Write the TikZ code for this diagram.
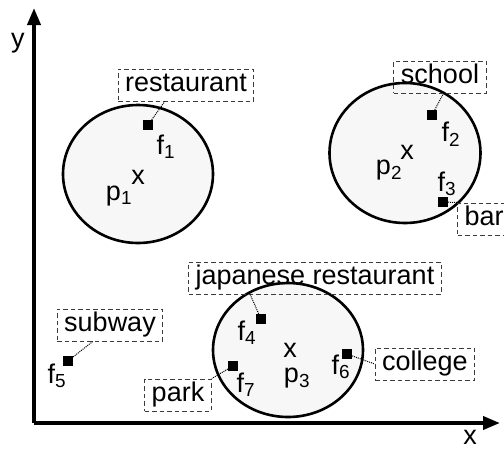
\documentclass[tikz,border=0pt]{standalone}
\usepackage{fontspec}
\setmainfont{Liberation Sans}
\usetikzlibrary{arrows.meta,positioning}
\definecolor{cRegion}{RGB}{247,247,247}
\definecolor{cTag}{RGB}{60,60,60}
\tikzset{
  region/.style={draw=black,line width=2.6pt,fill=cRegion},
  featmark/.style={rectangle,fill=black,minimum size=10pt,inner sep=0pt},
  tagbox/.style={rectangle,draw=cTag,dash pattern=on 4.5pt off 3pt,line width=1pt,
                 inner xsep=7pt,inner ysep=3.5pt,text height=19pt,text depth=6pt,
                 font=\fontsize{27}{30}\selectfont},
  lbl/.style={inner sep=0pt,font=\fontsize{27}{30}\selectfont},
  axisarr/.style={-{Triangle[length=17pt,width=13pt]},line width=3.8pt},
  conn/.style={densely dotted,line width=1pt}
}

\begin{document}
\begin{tikzpicture}[x=1pt,y=-1pt]
  \useasboundingbox (0,0) rectangle (504,451);

  % axes
  \coordinate (o) at (34,423);
  \coordinate (xend) at (500,423);
  \coordinate (yend) at (34,8);
  \draw[axisarr] (o) -- (xend);
  \draw[axisarr] (o) -- (yend);
  \node[lbl] (xlbl) at (470,437) {x};
  \node[lbl] (ylbl) at (18,43) {y};

  % regions
  \draw[region] (138,174) ellipse [x radius=75, y radius=69];
  \draw[region] (405,153) ellipse [x radius=75.5, y radius=70];
  \draw[region] (288,350) ellipse [x radius=75, y radius=67];

  % centres
  \node[lbl] (c1) at (138,177) {x};
  \node[lbl] (p1) at (119,196) {p\textsubscript{1}};
  \node[lbl] (c2) at (407,152) {x};
  \node[lbl] (p2) at (389,170) {p\textsubscript{2}};
  \node[lbl] (c3) at (290,350) {x};
  \node[lbl] (p3) at (297,378) {p\textsubscript{3}};

  % features
  \node[featmark] (f1) at (148,125) {};
  \node[featmark] (f2) at (432,115) {};
  \node[featmark] (f3) at (443,202) {};
  \node[featmark] (f4) at (261,319) {};
  \node[featmark] (f5) at (68,361) {};
  \node[featmark] (f6) at (347,354) {};
  \node[featmark] (f7) at (233,366) {};

  \node[lbl] (lf1) at (166,147) {f\textsubscript{1}};
  \node[lbl] (lf2) at (451,134) {f\textsubscript{2}};
  \node[lbl] (lf3) at (447,184) {f\textsubscript{3}};
  \node[lbl] (lf4) at (247,333) {f\textsubscript{4}};
  \node[lbl] (lf5) at (57,376) {f\textsubscript{5}};
  \node[lbl] (lf6) at (341,367) {f\textsubscript{6}};
  \node[lbl] (lf7) at (246,385) {f\textsubscript{7}};

  % tags
  \node[tagbox] (tRest) at (186,85) {restaurant};
  \node[tagbox] (tSchool) at (440,77) {school};
  \node[tagbox,anchor=west] (tBar) at (457,219) {bar};
  \node[tagbox] (tJap) at (315,278) {japanese restaurant};
  \node[tagbox] (tSub) at (110,325) {subway};
  \node[tagbox] (tPark) at (178,395) {park};
  \node[tagbox] (tCollege) at (425,364) {college};

  \draw[conn] (f1) -- ([xshift=47pt]tRest.south west);
  \draw[conn] (f2) -- ([xshift=50pt]tSchool.south west);
  \draw[conn] (f3) -- (tBar.north west);
  \draw[conn] (f4) -- ([xshift=62pt]tJap.south west);
  \draw[conn] (f5) -- ([xshift=36pt]tSub.south west);
  \draw[conn] (f6) -- (tCollege.west);
  \draw[conn] (f7) -- (tPark.north east);
\end{tikzpicture}
\end{document}
